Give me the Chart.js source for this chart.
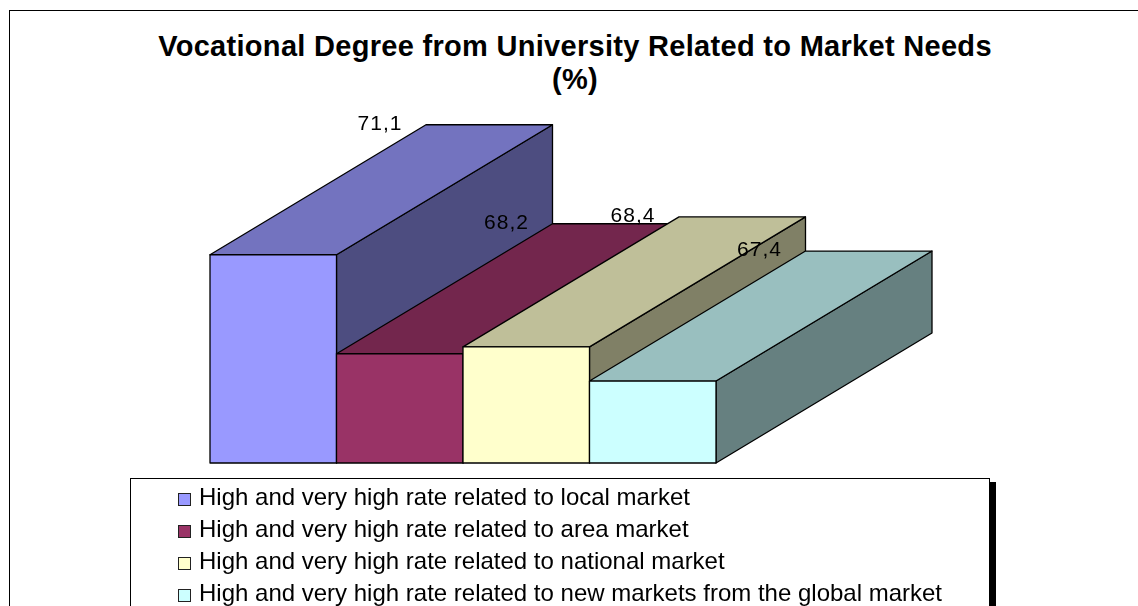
<!DOCTYPE html>
<html>
<head>
<meta charset="utf-8">
<script src="https://cdn.jsdelivr.net/npm/chart.js@4.4.1/dist/chart.umd.min.js"></script>
<style>
  html, body { margin: 0; padding: 0; background: #fff; overflow: hidden; }
  body { width: 1138px; height: 606px; position: relative; font-family: "Liberation Sans", Arial, sans-serif; }
  #frame { position: absolute; left: 9px; top: 10px; width: 1300px; height: 800px; border: 1.5px solid #000; }
  #title { position: absolute; left: 0; top: 30px; width: 1150px; text-align: center;
           font-weight: bold; font-size: 29px; letter-spacing: 0.3px; line-height: 33px; color: #000; }
  #chartWrap { position: absolute; left: 0; top: 0; width: 1138px; height: 606px; }
  #legend { position: absolute; left: 130px; top: 478px; width: 858px; height: 200px;
            border: 1px solid #000; background: #fff; box-shadow: 6px 4px 0 #000; }
  #legend .item { position: absolute; left: 47px; height: 32px; line-height: 32px;
                  font-size: 24px; color: #000; white-space: nowrap; }
  #legend .box { display: inline-block; width: 11px; height: 11px; border: 1.5px solid #222;
                 margin-right: 8px; vertical-align: -1px; }
</style>
</head>
<body>
<div id="frame"></div>
<div id="title">Vocational Degree from University Related to Market Needs<br>(%)</div>
<div id="chartWrap"><canvas id="marketChart" width="1138" height="606"></canvas></div>
<div id="legend"></div>
<script>
const categories = [
    'High and very high rate related to local market',
    'High and very high rate related to area market',
    'High and very high rate related to national market',
    'High and very high rate related to new markets from the global market'
];
const values = [71.1, 68.2, 68.4, 67.4];
const yMin = 65;
const yMax = 72;

const frontColors = ['#9999FF', '#993366', '#FFFFCC', '#CCFFFF'];
const topColors = ['#7373BF', '#73264D', '#BFBF99', '#99BFBF'];
const sideColors = ['#4D4D80', '#4D1A33', '#808066', '#668080'];

// depth of the 3d extrusion
const DX = 216;
const DY = -130;

// legend (html, so it can have the boxed shadow look)
const legendEl = document.getElementById('legend');
categories.forEach(function(name, i) {
    const item = document.createElement('div');
    item.className = 'item';
    item.style.top = (2 + i * 32) + 'px';
    const box = document.createElement('span');
    box.className = 'box';
    box.style.background = frontColors[i];
    item.appendChild(box);
    item.appendChild(document.createTextNode(name));
    legendEl.appendChild(item);
});

const bars3d = {
    id: 'bars3d',
    afterDatasetsDraw(chart) {
        const ctx = chart.ctx;
        const meta = chart.getDatasetMeta(0);
        const yScale = chart.scales.y;
        const base = yScale.getPixelForValue(yMin);
        ctx.save();
        ctx.strokeStyle = '#000';
        ctx.lineWidth = 1.3;
        ctx.lineJoin = 'round';
        meta.data.forEach(function(bar, i) {
            const left = bar.x - bar.width / 2;
            const right = bar.x + bar.width / 2;
            const top = bar.y;

            // side face
            ctx.beginPath();
            ctx.moveTo(right, top);
            ctx.lineTo(right + DX, top + DY);
            ctx.lineTo(right + DX, base + DY);
            ctx.lineTo(right, base);
            ctx.closePath();
            ctx.fillStyle = sideColors[i];
            ctx.fill();
            ctx.stroke();

            // top face
            ctx.beginPath();
            ctx.moveTo(left, top);
            ctx.lineTo(left + DX, top + DY);
            ctx.lineTo(right + DX, top + DY);
            ctx.lineTo(right, top);
            ctx.closePath();
            ctx.fillStyle = topColors[i];
            ctx.fill();
            ctx.stroke();

            // front face
            ctx.beginPath();
            ctx.rect(left, top, right - left, base - top);
            ctx.fillStyle = frontColors[i];
            ctx.fill();
            ctx.stroke();
        });

        // value labels
        ctx.fillStyle = '#000';
        ctx.font = '21px "Liberation Sans", Arial, sans-serif';
        ctx.letterSpacing = '1px';
        ctx.textAlign = 'center';
        ctx.textBaseline = 'middle';
        meta.data.forEach(function(bar, i) {
            const left = bar.x - bar.width / 2;
            const txt = values[i].toFixed(1).replace('.', ',');
            ctx.fillText(txt, left + DX - 46, bar.y + DY - 1);
        });
        ctx.restore();
    }
};

const ctx = document.getElementById('marketChart').getContext('2d');
const marketChart = new Chart(ctx, {
    type: 'bar',
    data: {
        labels: categories,
        datasets: [{
            data: values,
            base: yMin,
            backgroundColor: frontColors,
            borderWidth: 0,
            categoryPercentage: 1.0,
            barPercentage: 1.0
        }]
    },
    options: {
        responsive: false,
        animation: false,
        layout: {
            padding: { left: 210, right: 422, top: 224, bottom: 143 }
        },
        scales: {
            x: { display: false },
            y: { display: false, min: yMin, max: yMax }
        },
        plugins: {
            legend: { display: false },
            tooltip: { enabled: false }
        }
    },
    plugins: [bars3d]
});
</script>
</body>
</html>
